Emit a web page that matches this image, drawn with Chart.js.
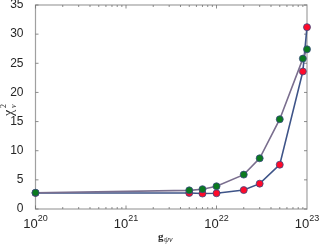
<!DOCTYPE html>
<html>
<head>
<meta charset="utf-8">
<script src="https://cdn.jsdelivr.net/npm/chart.js@4/dist/chart.umd.min.js"></script>
<style>
  html, body { margin: 0; padding: 0; background: #fff; }
  #wrap { width: 319px; height: 247px; }
</style>
</head>
<body>
<div id="wrap"><canvas id="myChart" width="319" height="247"></canvas></div>
<script>
// g values (x, log scale) and chi^2_nu for the two runs
var gValues = [1e20, 5e21, 7e21, 1e22, 2e22, 3e22, 5e22, 9e22, 1e23];
var chiGreen = [2.8, 3.2, 3.4, 3.9, 5.9, 8.7, 15.4, 25.8, 27.4];
var chiRed = [2.75, 2.75, 2.65, 2.7, 3.25, 4.35, 7.6, 23.6, 31.2];
var xExponents = [20, 21, 22, 23];
var yTicks = [0, 5, 10, 15, 20, 25, 30, 35];

function toPoints(ys) {
  return gValues.map(function (g, i) { return { x: g, y: ys[i] }; });
}

// box, inward ticks, superscript labels and axis titles
var frame = {
  id: 'frame',
  beforeDatasetsDraw: function (chart) {
    var c = chart.ctx, a = chart.chartArea;
    var xs = chart.scales.x, ys = chart.scales.y;
    c.save();
    c.strokeStyle = '#a0a0a0';
    c.lineWidth = 1.2;
    c.strokeRect(a.left, a.top, a.right - a.left, a.bottom - a.top);

    c.strokeStyle = '#707070';
    c.lineWidth = 0.8;
    c.beginPath();
    for (var e = 20; e < 23; e++) {
      for (var m = 1; m <= 9; m++) {
        var px = xs.getPixelForValue(m * Math.pow(10, e));
        var len = m === 1 ? 3.5 : 2;
        c.moveTo(px, a.bottom); c.lineTo(px, a.bottom - len);
        c.moveTo(px, a.top); c.lineTo(px, a.top + len);
      }
    }
    yTicks.forEach(function (v) {
      var py = ys.getPixelForValue(v);
      c.moveTo(a.left, py); c.lineTo(a.left + 3, py);
      c.moveTo(a.right, py); c.lineTo(a.right - 3, py);
    });
    c.stroke();

    // x tick labels 10^n
    c.fillStyle = '#262626';
    c.textBaseline = 'alphabetic';
    xExponents.forEach(function (e) {
      var px = xs.getPixelForValue(Math.pow(10, e));
      c.font = '13px "Liberation Sans", Arial, sans-serif';
      var w1 = c.measureText('10').width;
      c.font = '9px "Liberation Sans", Arial, sans-serif';
      var w2 = c.measureText(String(e)).width;
      var x0 = px - (w1 + w2) / 2;
      c.font = '13px "Liberation Sans", Arial, sans-serif';
      c.textAlign = 'left';
      c.fillText('10', x0, a.bottom + 19);
      c.font = '9px "Liberation Sans", Arial, sans-serif';
      c.fillText(String(e), x0 + w1, a.bottom + 12);
    });

    // x title g_psi nu
    c.font = 'bold 11px "Liberation Serif", serif';
    c.fillText('g', 158, 240);
    c.font = 'italic 8px "Liberation Serif", serif';
    c.fillText('\u03c8\u03bd', 164, 242);

    // y title chi^2_nu
    c.translate(13, 116);
    c.rotate(-Math.PI / 2);
    c.font = '14px "Liberation Serif", serif';
    c.fillText('\u03c7', 0, 0);
    c.font = '8px "Liberation Serif", serif';
    c.fillText('2', 8, -7);
    c.font = 'italic 8px "Liberation Serif", serif';
    c.fillText('\u03bd', 8, 3);
    c.restore();
  }
};

new Chart(document.getElementById('myChart'), {
  type: 'line',
  data: {
    datasets: [{
      label: 'green',
      data: toPoints(chiGreen),
      borderColor: '#7a6e8e',
      borderWidth: 1.6,
      pointBackgroundColor: '#0b7a1f',
      pointBorderColor: '#3a4a80',
      pointBorderWidth: 0.8,
      pointRadius: 3.5,
      tension: 0,
      clip: false
    }, {
      label: 'red',
      data: toPoints(chiRed),
      borderColor: '#3e5488',
      borderWidth: 1.6,
      pointBackgroundColor: '#ff0a2a',
      pointBorderColor: '#3a4a80',
      pointBorderWidth: 0.8,
      pointRadius: 3.5,
      tension: 0,
      clip: false
    }]
  },
  options: {
    responsive: false,
    animation: false,
    layout: { padding: { top: 5, right: 12, left: 0, bottom: 0 } },
    plugins: { legend: { display: false }, tooltip: { enabled: false } },
    scales: {
      x: {
        type: 'logarithmic',
        min: 1e20,
        max: 1e23,
        grid: { display: false },
        border: { display: false },
        ticks: { display: false },
        afterFit: function (s) { s.height = 38; s.paddingLeft = 0; s.paddingRight = 0; }
      },
      y: {
        min: 0,
        max: 35,
        grid: { display: false },
        border: { display: false },
        ticks: {
          stepSize: 5,
          color: '#262626',
          padding: 4,
          font: { family: '"Liberation Sans", Arial, sans-serif', size: 12 }
        },
        afterFit: function (s) { s.width = 35.5; s.paddingTop = 0; s.paddingBottom = 0; }
      }
    }
  },
  plugins: [frame]
});
</script>
</body>
</html>
